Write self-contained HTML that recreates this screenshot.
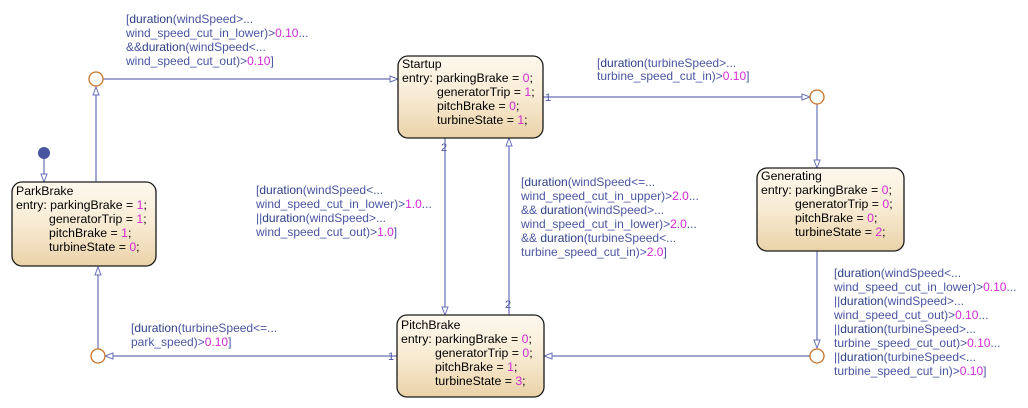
<!DOCTYPE html>
<html><head><meta charset="utf-8"><style>
html,body{margin:0;padding:0;background:#fff;}
svg{display:block;}
text{font-family:"Liberation Sans",Arial,sans-serif;}
.l{font-size:12px;fill:#4a55a0;}
.k{fill:#2c3e85;}
.n{fill:#d22ad2;}
.s{font-size:12.3px;fill:#000;}
.ln{stroke:#6870b8;stroke-width:1.2;fill:none;}
.j{stroke:#c8742a;stroke-width:1.3;fill:#fff;}
.st{stroke:#1a1a1a;stroke-width:1.3;fill:url(#g);}
.num{font-size:11px;fill:#4a55a0;}
</style></head><body>
<svg width="1028" height="408" viewBox="0 0 1028 408" xmlns="http://www.w3.org/2000/svg">
<defs>
<linearGradient id="g" x1="0" y1="0" x2="0" y2="1">
<stop offset="0" stop-color="#fdf8ee"/><stop offset="0.5" stop-color="#f8ebd3"/><stop offset="1" stop-color="#ead2a8"/>
</linearGradient>
<marker id="a" markerWidth="10" markerHeight="8" refX="9" refY="4" orient="auto" markerUnits="userSpaceOnUse">
<path d="M1,1 L9,4 L1,7 Z" fill="#fff" stroke="#6870b8" stroke-width="1"/>
</marker>
</defs>

<line class="ln" x1="44" y1="153" x2="44" y2="182" marker-end="url(#a)"/>
<circle cx="44" cy="153" r="6" fill="#4a55a0"/>
<line class="ln" x1="96" y1="182" x2="96" y2="87" marker-end="url(#a)"/>
<line class="ln" x1="103" y1="79" x2="398" y2="79" marker-end="url(#a)"/>
<line class="ln" x1="543" y1="97" x2="810" y2="97" marker-end="url(#a)"/>
<line class="ln" x1="817" y1="104" x2="817" y2="168" marker-end="url(#a)"/>
<line class="ln" x1="817" y1="251" x2="817" y2="348" marker-end="url(#a)"/>
<line class="ln" x1="810" y1="356" x2="544" y2="356" marker-end="url(#a)"/>
<line class="ln" x1="397" y1="356" x2="105" y2="356" marker-end="url(#a)"/>
<line class="ln" x1="98" y1="349" x2="98" y2="267" marker-end="url(#a)"/>
<line class="ln" x1="445" y1="138" x2="445" y2="315" marker-end="url(#a)"/>
<line class="ln" x1="509" y1="315" x2="509" y2="138" marker-end="url(#a)"/>

<circle class="j" cx="96" cy="79" r="7"/>
<circle class="j" cx="817" cy="97" r="7"/>
<circle class="j" cx="817" cy="356" r="7"/>
<circle class="j" cx="98" cy="356" r="7"/>

<text class="num" x="545" y="101">1</text>
<text class="num" x="388" y="360">1</text>
<text class="num" x="441" y="151">2</text>
<text class="num" x="505" y="308">2</text>

<rect class="st" x="398" y="56" width="145" height="82" rx="10"/>
<text class="s" x="402" y="68">Startup</text>
<text class="s" x="402" y="82">entry: parkingBrake = <tspan class="n">0</tspan>;</text>
<text class="s" x="437" y="96">generatorTrip = <tspan class="n">1</tspan>;</text>
<text class="s" x="437" y="110">pitchBrake = <tspan class="n">0</tspan>;</text>
<text class="s" x="437" y="124">turbineState = <tspan class="n">1</tspan>;</text>

<rect class="st" x="757" y="168" width="147" height="83" rx="10"/>
<text class="s" x="761" y="180">Generating</text>
<text class="s" x="761" y="194">entry: parkingBrake = <tspan class="n">0</tspan>;</text>
<text class="s" x="795" y="208">generatorTrip = <tspan class="n">0</tspan>;</text>
<text class="s" x="795" y="222">pitchBrake = <tspan class="n">0</tspan>;</text>
<text class="s" x="795" y="236">turbineState = <tspan class="n">2</tspan>;</text>

<rect class="st" x="397" y="315" width="147" height="82" rx="10"/>
<text class="s" x="401" y="329">PitchBrake</text>
<text class="s" x="401" y="343">entry: parkingBrake = <tspan class="n">0</tspan>;</text>
<text class="s" x="435" y="357">generatorTrip = <tspan class="n">0</tspan>;</text>
<text class="s" x="435" y="371">pitchBrake = <tspan class="n">1</tspan>;</text>
<text class="s" x="435" y="385">turbineState = <tspan class="n">3</tspan>;</text>

<rect class="st" x="12" y="182" width="144" height="84" rx="10"/>
<text class="s" x="16" y="195">ParkBrake</text>
<text class="s" x="16" y="209">entry: parkingBrake = <tspan class="n">1</tspan>;</text>
<text class="s" x="49" y="223">generatorTrip = <tspan class="n">1</tspan>;</text>
<text class="s" x="49" y="237">pitchBrake = <tspan class="n">1</tspan>;</text>
<text class="s" x="49" y="251">turbineState = <tspan class="n">0</tspan>;</text>

<g class="l">
<text x="126" y="23">[<tspan class="k">duration</tspan>(windSpeed&gt;...</text>
<text x="126" y="37">wind_speed_cut_in_lower)&gt;<tspan class="n">0.10</tspan>...</text>
<text x="126" y="51">&amp;&amp;<tspan class="k">duration</tspan>(windSpeed&lt;...</text>
<text x="126" y="65">wind_speed_cut_out)&gt;<tspan class="n">0.10</tspan>]</text>

<text x="597" y="67">[<tspan class="k">duration</tspan>(turbineSpeed&gt;...</text>
<text x="597" y="80">turbine_speed_cut_in)&gt;<tspan class="n">0.10</tspan>]</text>

<text x="256" y="194">[<tspan class="k">duration</tspan>(windSpeed&lt;...</text>
<text x="256" y="208">wind_speed_cut_in_lower)&gt;<tspan class="n">1.0</tspan>...</text>
<text x="256" y="222">||<tspan class="k">duration</tspan>(windSpeed&gt;...</text>
<text x="256" y="236">wind_speed_cut_out)&gt;<tspan class="n">1.0</tspan>]</text>

<text x="521" y="186">[<tspan class="k">duration</tspan>(windSpeed&lt;=...</text>
<text x="521" y="200">wind_speed_cut_in_upper)&gt;<tspan class="n">2.0</tspan>...</text>
<text x="521" y="214">&amp;&amp; <tspan class="k">duration</tspan>(windSpeed&gt;...</text>
<text x="521" y="228">wind_speed_cut_in_lower)&gt;<tspan class="n">2.0</tspan>...</text>
<text x="521" y="242">&amp;&amp; <tspan class="k">duration</tspan>(turbineSpeed&lt;...</text>
<text x="521" y="256">turbine_speed_cut_in)&gt;<tspan class="n">2.0</tspan>]</text>

<text x="834" y="277">[<tspan class="k">duration</tspan>(windSpeed&lt;...</text>
<text x="834" y="291">wind_speed_cut_in_lower)&gt;<tspan class="n">0.10</tspan>...</text>
<text x="834" y="305">||<tspan class="k">duration</tspan>(windSpeed&gt;...</text>
<text x="834" y="319">wind_speed_cut_out)&gt;<tspan class="n">0.10</tspan>...</text>
<text x="834" y="333">||<tspan class="k">duration</tspan>(turbineSpeed&gt;...</text>
<text x="834" y="347">turbine_speed_cut_out)&gt;<tspan class="n">0.10</tspan>...</text>
<text x="834" y="361">||<tspan class="k">duration</tspan>(turbineSpeed&lt;...</text>
<text x="834" y="375">turbine_speed_cut_in)&gt;<tspan class="n">0.10</tspan>]</text>

<text x="131" y="332">[<tspan class="k">duration</tspan>(turbineSpeed&lt;=...</text>
<text x="131" y="346">park_speed)&gt;<tspan class="n">0.10</tspan>]</text>
</g>
</svg>
</body></html>
